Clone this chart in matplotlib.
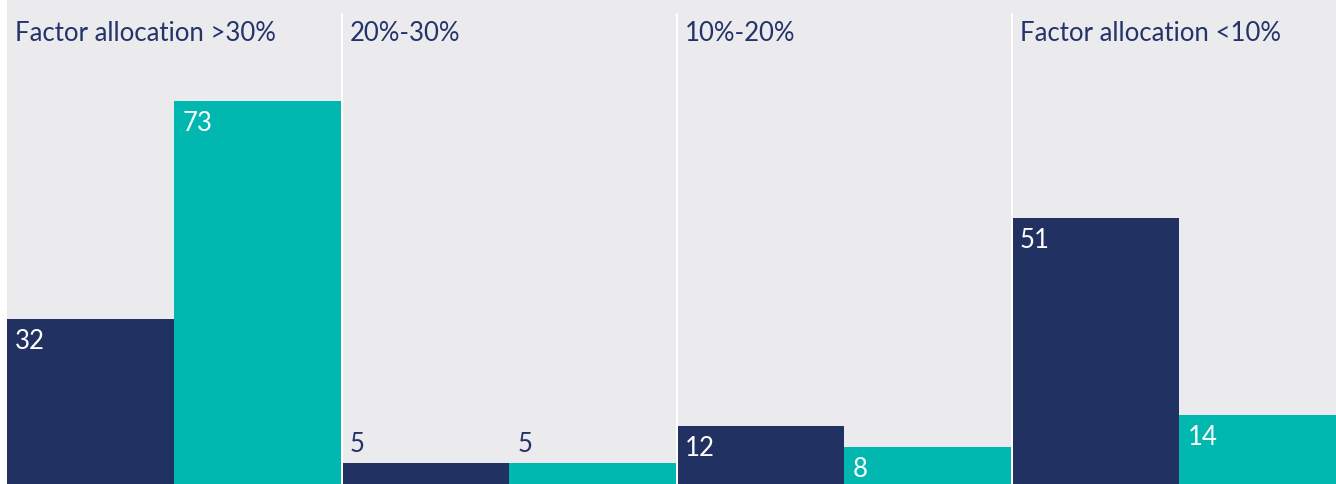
import matplotlib
matplotlib.use("Agg")
import matplotlib.pyplot as plt
from matplotlib import font_manager

# Data
groups = ["Factor allocation >30%", "20%-30%", "10%-20%", "Factor allocation <10%"]
series_a = [32, 5, 12, 51]   # navy bars
series_b = [73, 5, 8, 14]    # teal bars

NAVY = "#203162"
TEAL = "#00B8B0"
BG = "#EBEBED"
TEXT = "#24336A"

avail = {f.name for f in font_manager.fontManager.ttflist}
family = "Lato" if "Lato" in avail else "DejaVu Sans"

W, H = 1336, 484
fig = plt.figure(figsize=(W / 100, H / 100), dpi=100, facecolor="white")
ax = fig.add_axes([7 / W, 0, (W - 7) / W, 1])
ax.set_facecolor(BG)

px = 72 / 100  # points per pixel
FS = 18.5

for i, (a, b) in enumerate(zip(series_a, series_b)):
    x0 = 2 * i
    for j, (v, c) in enumerate(((a, NAVY), (b, TEAL))):
        ax.bar(x0 + j, v, width=1, align="edge", color=c, linewidth=0)
        if v >= 7:
            ax.annotate(str(v), (x0 + j, v), xytext=(8 * px, -10 * px),
                        textcoords="offset points", ha="left", va="top",
                        color="white", fontsize=FS, family=family)
        else:
            ax.annotate(str(v), (x0 + j, v), xytext=(8 * px, 6 * px),
                        textcoords="offset points", ha="left", va="bottom",
                        color=TEXT, fontsize=FS, family=family)
    ax.annotate(groups[i], (x0, 1), xycoords=("data", "axes fraction"),
                xytext=(8 * px, -21 * px), textcoords="offset points",
                ha="left", va="top", color=TEXT, fontsize=FS, family=family)

ymin, ymax = 1.05, 92.0
ax.vlines([2, 4, 6], ymin, 89.6, color="white", linewidth=2 * px, zorder=5)

ax.set_xlim(0, (W - 7) / 167.5)
ax.set_ylim(ymin, ymax)
for s in ax.spines.values():
    s.set_visible(False)
ax.set_xticks([])
ax.set_yticks([])

fig.savefig("out.png", dpi=100, facecolor="white")
